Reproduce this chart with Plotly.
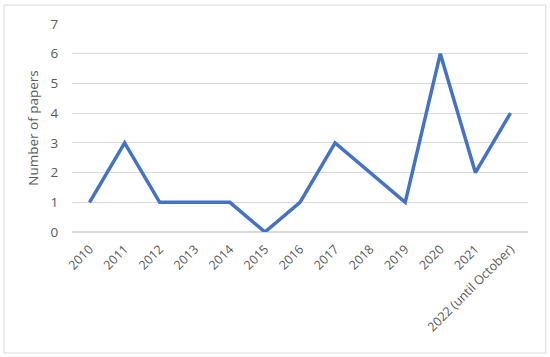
import plotly.graph_objects as go

years = ["2010", "2011", "2012", "2013", "2014", "2015", "2016", "2017",
         "2018", "2019", "2020", "2021", "2022 (until October)"]
papers = [1, 3, 1, 1, 1, 0, 1, 3, 2, 1, 6, 2, 4]

fig = go.Figure(go.Scatter(
    x=years, y=papers, mode="lines",
    line=dict(color="#4472C4", width=3.5),
))

fig.update_layout(
    width=550, height=357,
    margin=dict(l=72, r=22, t=24, b=125, autoexpand=False),
    paper_bgcolor="white", plot_bgcolor="white",
    font=dict(family="Open Sans, Liberation Sans, sans-serif", size=12, color="#595959"),
    showlegend=False,
    xaxis=dict(
        type="category", range=[-0.5, 12.5], tickangle=-45, automargin=False,
        showgrid=False, showline=False, ticks="outside", ticklen=4, tickcolor="white",
        tickfont=dict(size=12.5, color="#595959"),
    ),
    yaxis=dict(
        range=[0, 7], dtick=1, showgrid=True, gridcolor="#d9d9d9", gridwidth=1,
        zeroline=True, zerolinecolor="#d9d9d9", zerolinewidth=1.5,
        showline=False, ticks="outside", ticklen=10, tickcolor="white",
        automargin=False,
        title=dict(text="Number of papers", font=dict(size=13.5, color="#595959"), standoff=8),
        tickfont=dict(size=13.5, color="#595959"),
    ),
    shapes=[dict(
        type="rect", xref="paper", yref="paper",
        x0=-0.149, x1=1.039, y0=-0.582, y1=1.091,
        line=dict(color="#d9d9d9", width=1),
    )],
)

# page margin off so the 550x357 figure fills the window
fig.write_html("out.html", config={"displayModeBar": False},
               post_script="document.body.style.margin='0';")
